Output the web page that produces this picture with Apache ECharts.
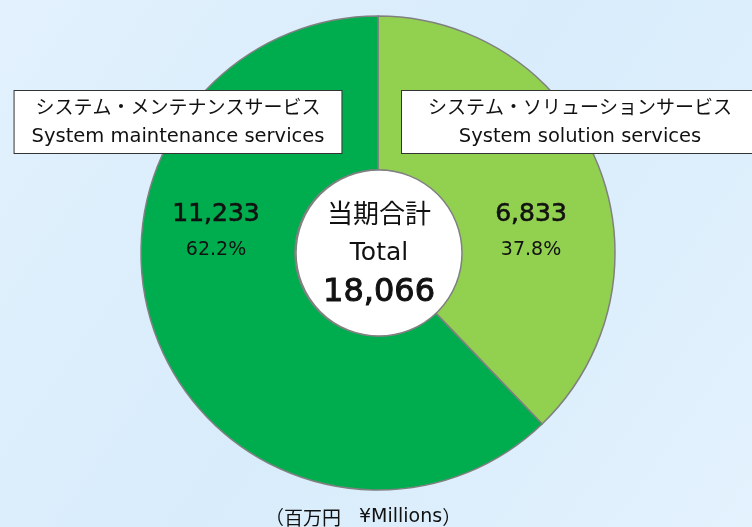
<!DOCTYPE html>
<html>
<head>
<meta charset="utf-8">
<script src="https://cdn.jsdelivr.net/npm/echarts@6/dist/echarts.min.js"></script>
<style>
  html, body { margin: 0; padding: 0; }
  #chart { width: 752px; height: 527px; }
</style>
</head>
<body>
<div id="chart"></div>
<script>
// データ
var namesJa = ['システム・ソリューションサービス', 'システム・メンテナンスサービス'];
var namesEn = ['System solution services', 'System maintenance services'];
var values = [6833, 11233];
var colors = ['#92d050', '#00ad4e'];
var totalJa = '当期合計';
var totalEn = 'Total';
var unitJa = '百万円';
var unitEn = '¥Millions';

var font = '"DejaVu Sans", "Noto Sans CJK JP", sans-serif';
var jaFont = '"Noto Sans CJK JP", sans-serif';
var total = values.reduce(function (a, b) { return a + b; }, 0);
function fmt(n) { return n.toLocaleString('en-US'); }

// ラベル位置
var valuePos = [[531, 232], [216, 232]];
var namePos = [[580, 122], [178, 122]];
var namePad = [26, 17];

var myChart = echarts.init(document.getElementById('chart'));
var option = {
  backgroundColor: {
    type: 'linear', x: 0, y: 0, x2: 1, y2: 1,
    colorStops: [
      { offset: 0, color: '#e2f1fd' },
      { offset: 0.5, color: '#d8ecfb' },
      { offset: 1, color: '#e3f2fd' }
    ]
  },
  title: {
    text: '{j|（' + unitJa + '}\u3000{e|' + unitEn + '}{j|）}',
    left: 260,
    top: 503,
    textStyle: {
      fontWeight: 'normal',
      rich: {
        j: { fontFamily: jaFont, fontSize: 19, fontWeight: 'normal', color: '#111' },
        e: { fontFamily: font, fontSize: 19, fontWeight: 'normal', color: '#111' }
      }
    }
  },
  series: [
    {
      // ドーナツ本体
      type: 'pie',
      center: [378, 253],
      radius: [83, 237],
      startAngle: 90,
      clockwise: true,
      silent: true,
      percentPrecision: 1,
      itemStyle: { borderColor: '#808080', borderWidth: 1.5 },
      label: {
        show: true,
        position: 'inside',
        fontFamily: font,
        color: '#111',
        formatter: function (p) {
          return '{v|' + fmt(p.value) + '}\n{p|' + p.percent.toFixed(1) + '%}';
        },
        rich: {
          v: { fontFamily: font, fontSize: 25, lineHeight: 36, color: '#111', textBorderColor: '#111', textBorderWidth: 0.6 },
          p: { fontFamily: font, fontSize: 19, lineHeight: 36, color: '#111' }
        }
      },
      labelLine: { show: false },
      labelLayout: function (params) {
        var pos = valuePos[params.dataIndex];
        return { x: pos[0], y: pos[1], align: 'center', verticalAlign: 'middle' };
      },
      data: values.map(function (v, i) {
        return { name: namesEn[i], value: v, itemStyle: { color: colors[i] } };
      })
    },
    {
      // 区分名ボックス
      type: 'pie',
      center: [378, 253],
      radius: [83, 237],
      startAngle: 90,
      silent: true,
      z: 5,
      itemStyle: { color: 'rgba(0,0,0,0)', borderWidth: 0 },
      label: {
        show: true,
        position: 'inside',
        backgroundColor: '#fff',
        borderColor: '#333',
        borderWidth: 1,
        formatter: function (p) {
          return '{ja|' + namesJa[p.dataIndex] + '}\n{en|' + namesEn[p.dataIndex] + '}';
        },
        rich: {
          ja: { fontFamily: jaFont, fontSize: 19, lineHeight: 30, color: '#111', align: 'center' },
          en: { fontFamily: font, fontSize: 19.5, lineHeight: 30, color: '#111', align: 'center' }
        }
      },
      labelLine: { show: false },
      labelLayout: function (params) {
        var pos = namePos[params.dataIndex];
        return { x: pos[0], y: pos[1], align: 'center', verticalAlign: 'middle' };
      },
      data: values.map(function (v, i) {
        return { name: namesEn[i], value: v, label: { padding: [1, namePad[i], 1, namePad[i]] } };
      })
    },
    {
      // 中央の合計
      type: 'pie',
      center: [379, 253],
      radius: [0, 83],
      silent: true,
      z: 4,
      itemStyle: { color: '#fff', borderColor: '#808080', borderWidth: 1.5 },
      label: {
        show: true,
        position: 'center',
        formatter: '{a|' + totalJa + '}\n{b|' + totalEn + '}\n{c|' + fmt(total) + '}',
        rich: {
          a: { fontFamily: jaFont, fontSize: 26, lineHeight: 40, color: '#111' },
          b: { fontFamily: font, fontSize: 25, lineHeight: 40, color: '#111' },
          c: { fontFamily: font, fontSize: 32, lineHeight: 40, color: '#111', textBorderColor: '#111', textBorderWidth: 1 }
        }
      },
      labelLine: { show: false },
      data: [{ name: totalEn, value: total }]
    }
  ]
};
myChart.setOption(option);
</script>
</body>
</html>
